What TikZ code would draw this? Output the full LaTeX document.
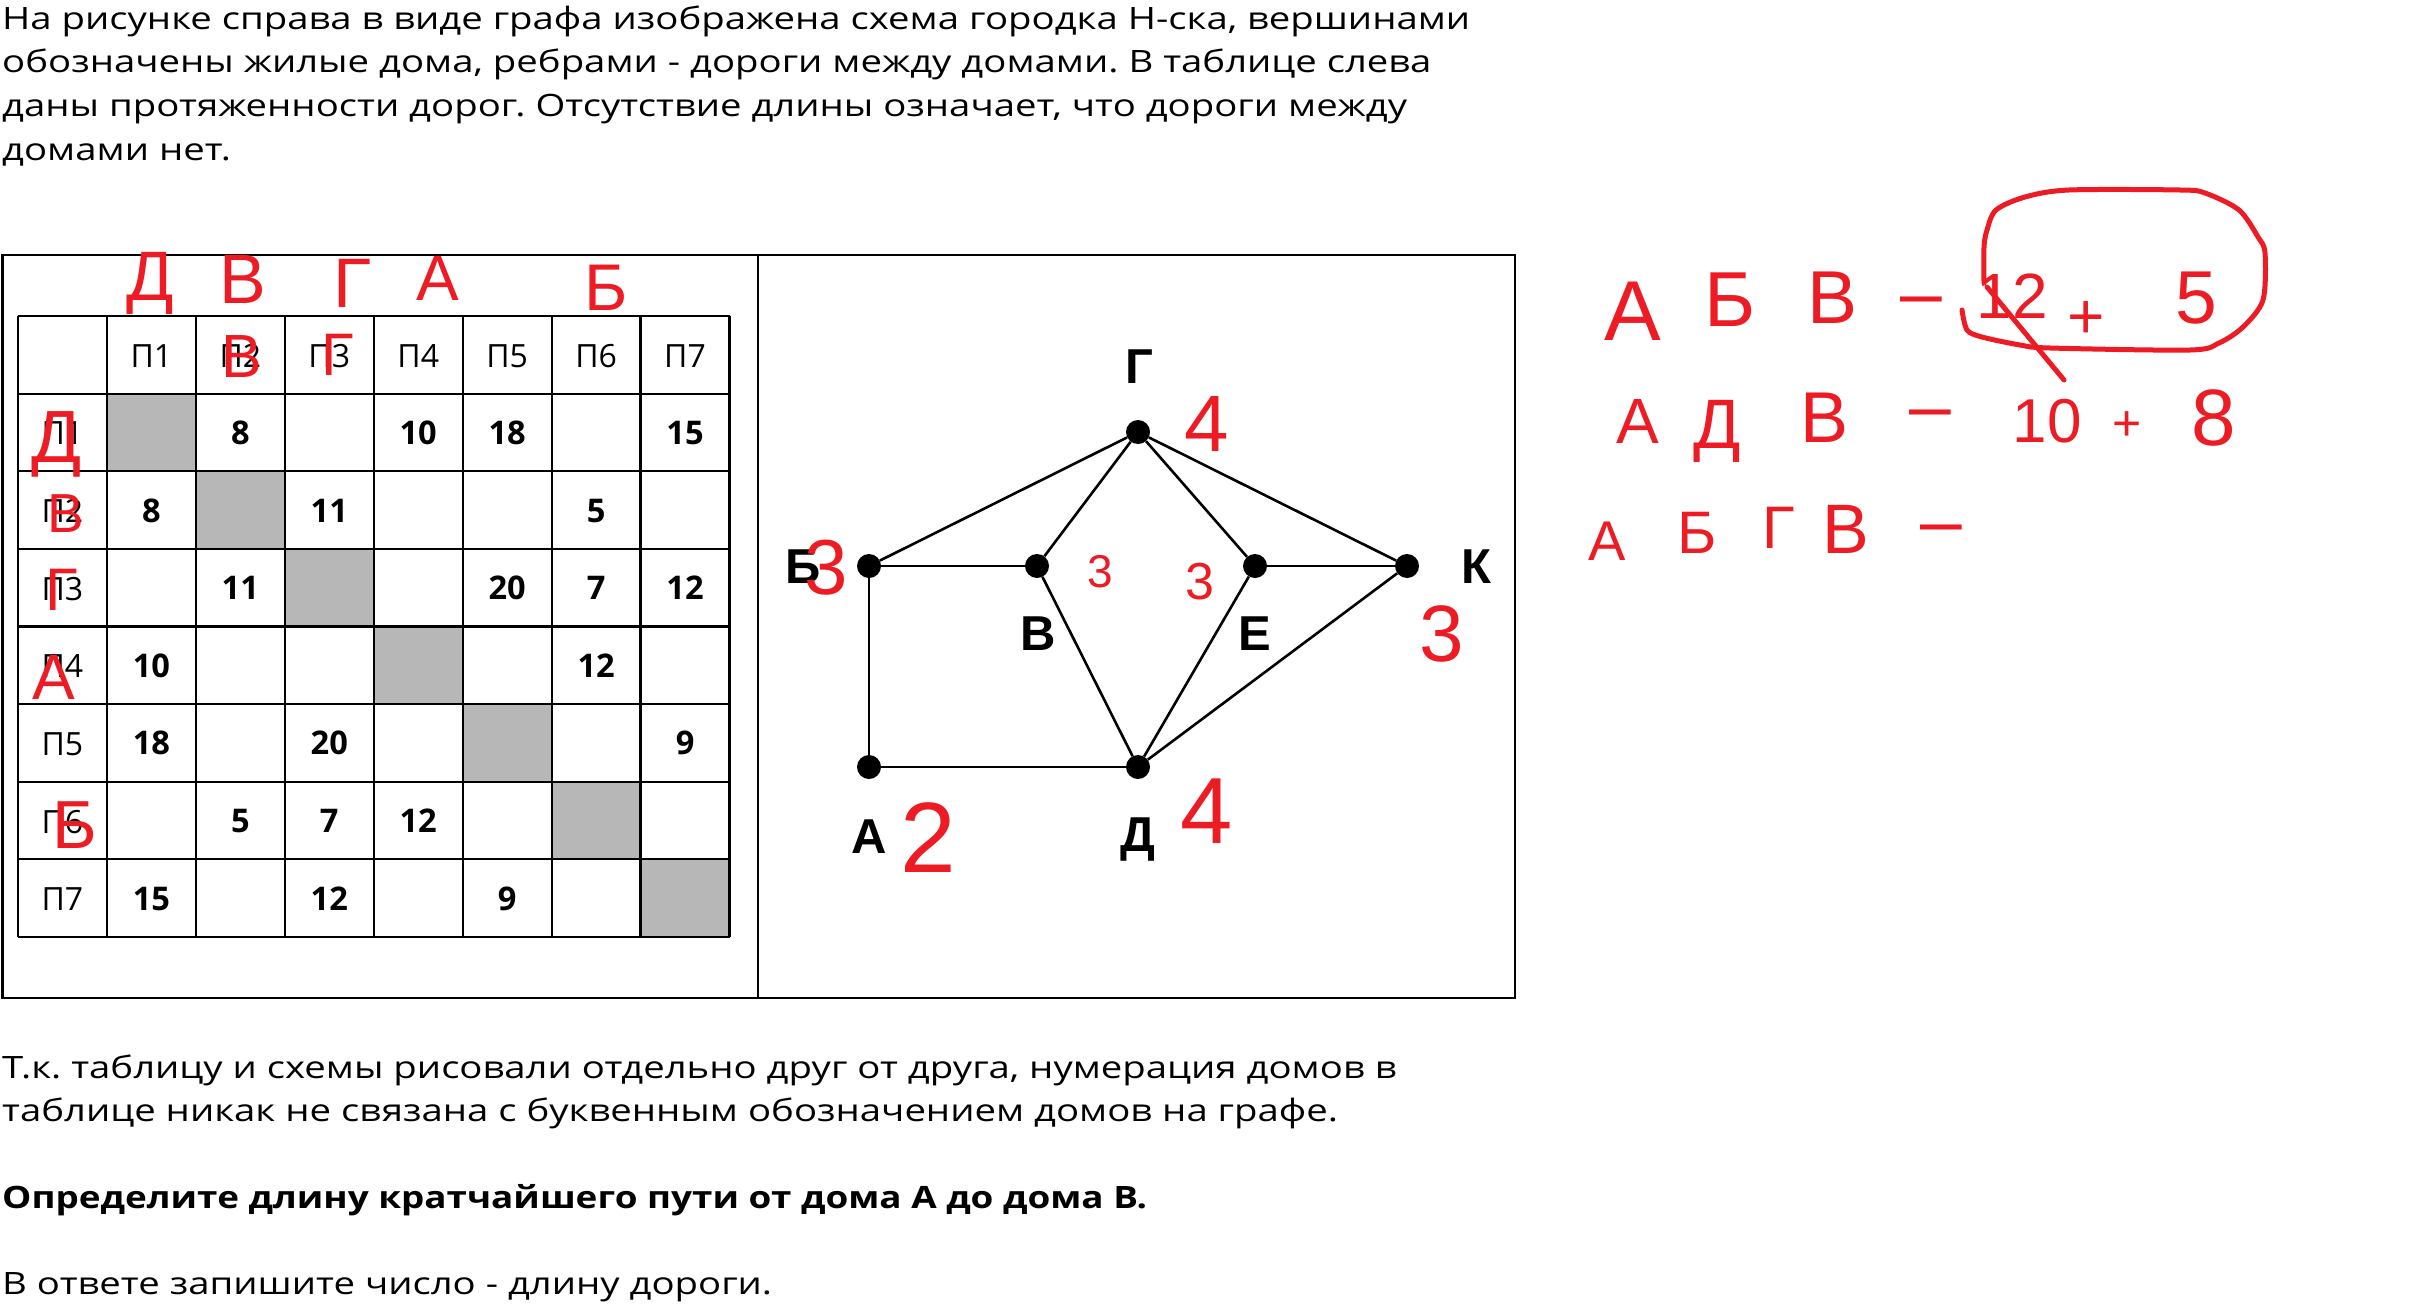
\documentclass[tikz,border=0pt]{standalone}
\usepackage{fontspec}
\usepackage{graphicx}
\setmainfont{Open Sans}
\newfontfamily\lblfont{Liberation Sans}
\newfontfamily\handfont{Liberation Sans}
\definecolor{pen}{RGB}{237,28,36}
\definecolor{cellgray}{RGB}{183,183,183}
\newlength\fitw
\newcommand\bodysize{\fontsize{30.8}{40}\selectfont}
\frenchspacing
\tikzset{
  bodytext/.style={anchor=base west, inner sep=0pt, font=\bodysize},
  outerframe/.style={line width=2.5pt, draw=black},
  tabgrid/.style={line width=2.2pt, draw=black},
  celltext/.style={anchor=base, inner sep=0pt, font=\fontsize{32}{36}\selectfont},
  cellnum/.style={anchor=base, inner sep=0pt, font=\bfseries\fontsize{32.6}{36}\selectfont},
  vertex/.style={circle, fill=black, inner sep=0pt, minimum size=24pt},
  road/.style={line width=2.6pt, draw=black},
  vlabel/.style={anchor=base, inner sep=0pt, font=\lblfont\bfseries\fontsize{49}{55}\selectfont},
  hand/.style={anchor=base, inner sep=0pt, text=pen, font=\handfont\fontsize{#1}{#1}\selectfont},
  hand/.default=72,
  penline/.style={draw=pen, line width=5pt, line cap=round, line join=round},
}
\begin{document}
\settowidth\fitw{\bodysize На рисунке справа в виде графа изображена схема городка Н-ска, вершинами}%
\pgfmathsetmacro\bodyr{1468/\fitw}%
\settowidth\fitw{\bodysize\bfseries Определите длину кратчайшего пути от дома А до дома В.}%
\pgfmathsetmacro\boldr{1145/\fitw}%
\begin{tikzpicture}[x=1pt,y=-1pt]
\useasboundingbox (0,0) rectangle (2432,1303);
\fill[white] (0,0) rectangle (2432,1303);

% ---------- text above ----------
\node[bodytext] (p1) at (2,29.5) {\scalebox{\bodyr}[1]{На рисунке справа в виде графа изображена схема городка Н-ска, вершинами}};
\node[bodytext] (p2) at (2,73) {\scalebox{\bodyr}[1]{обозначены жилые дома, ребрами - дороги между домами. В таблице слева}};
\node[bodytext] (p3) at (2,116.5) {\scalebox{\bodyr}[1]{даны протяженности дорог. Отсутствие длины означает, что дороги между}};
\node[bodytext] (p4) at (2,160) {\scalebox{\bodyr}[1]{домами нет.}};

% ---------- text below ----------
\node[bodytext] (b1) at (2,1078) {\scalebox{\bodyr}[1]{Т.к. таблицу и схемы рисовали отдельно друг от друга, нумерация домов в}};
\node[bodytext] (b2) at (2,1121.5) {\scalebox{\bodyr}[1]{таблице никак не связана с буквенным обозначением домов на графе.}};
\node[bodytext] (b3) at (2,1208) {\scalebox{\boldr}[1]{\bfseries Определите длину кратчайшего пути от дома А до дома В.}};
\node[bodytext] (b4) at (2,1294) {\scalebox{\bodyr}[1]{В ответе запишите число - длину дороги.}};

% ---------- frame ----------
\draw[outerframe] (2.5,255) rectangle (1515,998);
\draw[outerframe] (758,255) -- (758,998);

% ---------- table ----------
\foreach \i in {1,...,7}
  \fill[cellgray] (18+\i*88.94,316+\i*77.625) rectangle ++(88.94,77.625);
\foreach \c in {0,...,8}
  \draw[tabgrid] (18+\c*88.94,316) -- (18+\c*88.94,937);
\foreach \r in {0,...,8}
  \draw[tabgrid] (18,316+\r*77.625) -- (729.5,316+\r*77.625);
\foreach \c in {1,...,7} {
  \node[celltext] (h\c) at (18+\c*88.94+44.47,316+38.8+12.5) {П\c};
  \node[celltext] (r\c) at (18+44.47,316+\c*77.625+38.8+12.5) {П\c};
}
\foreach \r/\c/\v in {1/2/8,1/4/10,1/5/18,1/7/15,2/1/8,2/3/11,2/6/5,3/2/11,3/5/20,3/6/7,3/7/12,4/1/10,4/6/12,5/1/18,5/3/20,5/7/9,6/2/5,6/3/7,6/4/12,7/1/15,7/3/12,7/5/9}
  \node[cellnum] (n\r-\c) at (18+\c*88.94+44.47,316+\r*77.625+38.8+12) {\v};

% ---------- graph ----------
\node[vertex] (gG) at (1138,432) {};
\node[vertex] (gB) at (869,566) {};
\node[vertex] (gV) at (1037,566) {};
\node[vertex] (gE) at (1255,566) {};
\node[vertex] (gK) at (1407,566) {};
\node[vertex] (gA) at (869,767) {};
\node[vertex] (gD) at (1138,767) {};
\draw[road] (gG) -- (gB);
\draw[road] (gG) -- (gV);
\draw[road] (gG) -- (gE);
\draw[road] (gG) -- (gK);
\draw[road] (gB) -- (gV);
\draw[road] (gE) -- (gK);
\draw[road] (gB) -- (gA);
\draw[road] (gA) -- (gD);
\draw[road] (gV) -- (gD);
\draw[road] (gE) -- (gD);
\draw[road] (gK) -- (gD);
\node[vlabel] (lG) at (1139,383) {Г};
\node[vlabel] (lB) at (803,583.5) {Б};
\node[vlabel] (lV) at (1038,650) {В};
\node[vlabel] (lE) at (1255,650) {Е};
\node[vlabel] (lK) at (1476,583.5) {К};
\node[vlabel] (lA) at (869,853) {А};
\node[vlabel] (lD) at (1138,851) {Д};

% ---------- red marks: graph degrees ----------
\node[hand=80] (dG) at (1207,451) {4};
\node[hand=78] (dB) at (826,594) {3};
\node[hand=46] (dV) at (1100,587) {3};
\node[hand=52] (dE) at (1200,599) {3};
\node[hand=80] (dK) at (1442,661) {3};
\node[hand=100] (dA) at (928,872) {2};
\node[hand=94] (dD) at (1207,843) {4};

% ---------- red marks: table ----------
\node[hand=70] (tc1) at (150,300) {Д};
\node[hand=70] (tc2) at (243,303) {В};
\node[hand=70] (tc3) at (352,307) {Г};
\node[hand=64] (tc4) at (438,300) {А};
\node[hand=66] (tc6) at (606,310) {Б};
\node[hand=61] (th2) at (242,377) {В};
\node[hand=60] (th3) at (338,375) {Г};
\node[hand=74] (tr1) at (57,462) {Д};
\node[hand=55] (tr2) at (66,532) {В};
\node[hand=60] (tr3) at (62,610) {Г};
\node[hand=64] (tr4) at (54,699) {А};
\node[hand=68] (tr6) at (75,848) {Б};

% ---------- red marks: notes ----------
\node[hand=85] (w1a) at (1633,340) {А};
\node[hand=78] (w1b) at (1730,326) {Б};
\node[hand=75] (w1c) at (1832,323) {В};
\node[hand=75] (w1d) at (1921,318) {–};
\node[hand=64] (w1e) at (2012,318) {12};
\node[hand=64] (w1f) at (2086,338) {+};
\node[hand=75] (w1g) at (2196,323) {5};
\node[hand=64] (w2a) at (1638,443) {А};
\node[hand=70] (w2b) at (1717,448) {Д};
\node[hand=72] (w2c) at (1824,442) {В};
\node[hand=75] (w2d) at (1930,431) {–};
\node[hand=62] (w2e) at (2047,442) {10};
\node[hand=50] (w2f) at (2127,440) {+};
\node[hand=80] (w2g) at (2214,445) {8};
\node[hand=56] (w3a) at (1607,560) {А};
\node[hand=60] (w3b) at (1697,553) {Б};
\node[hand=60] (w3c) at (1779,548) {Г};
\node[hand=70] (w3d) at (1846,553) {В};
\node[hand=75] (w3e) at (1941,546) {–};

\draw[penline] plot[smooth, tension=0.5] coordinates {(1962,310) (1967,330) (1982,337) (2020,345) (2050,348) (2190,350) (2219,343) (2243,327) (2263,300) (2265,253) (2258,237) (2239,210) (2205,193) (2180,190) (2069,190) (2025,197) (1996,210) (1987,230) (1984,247) (1984,283)};
\coordinate (strikeA) at (1987,287);
\coordinate (strikeB) at (2064,380);
\draw[penline] (strikeA) -- (strikeB);
\end{tikzpicture}
\end{document}
